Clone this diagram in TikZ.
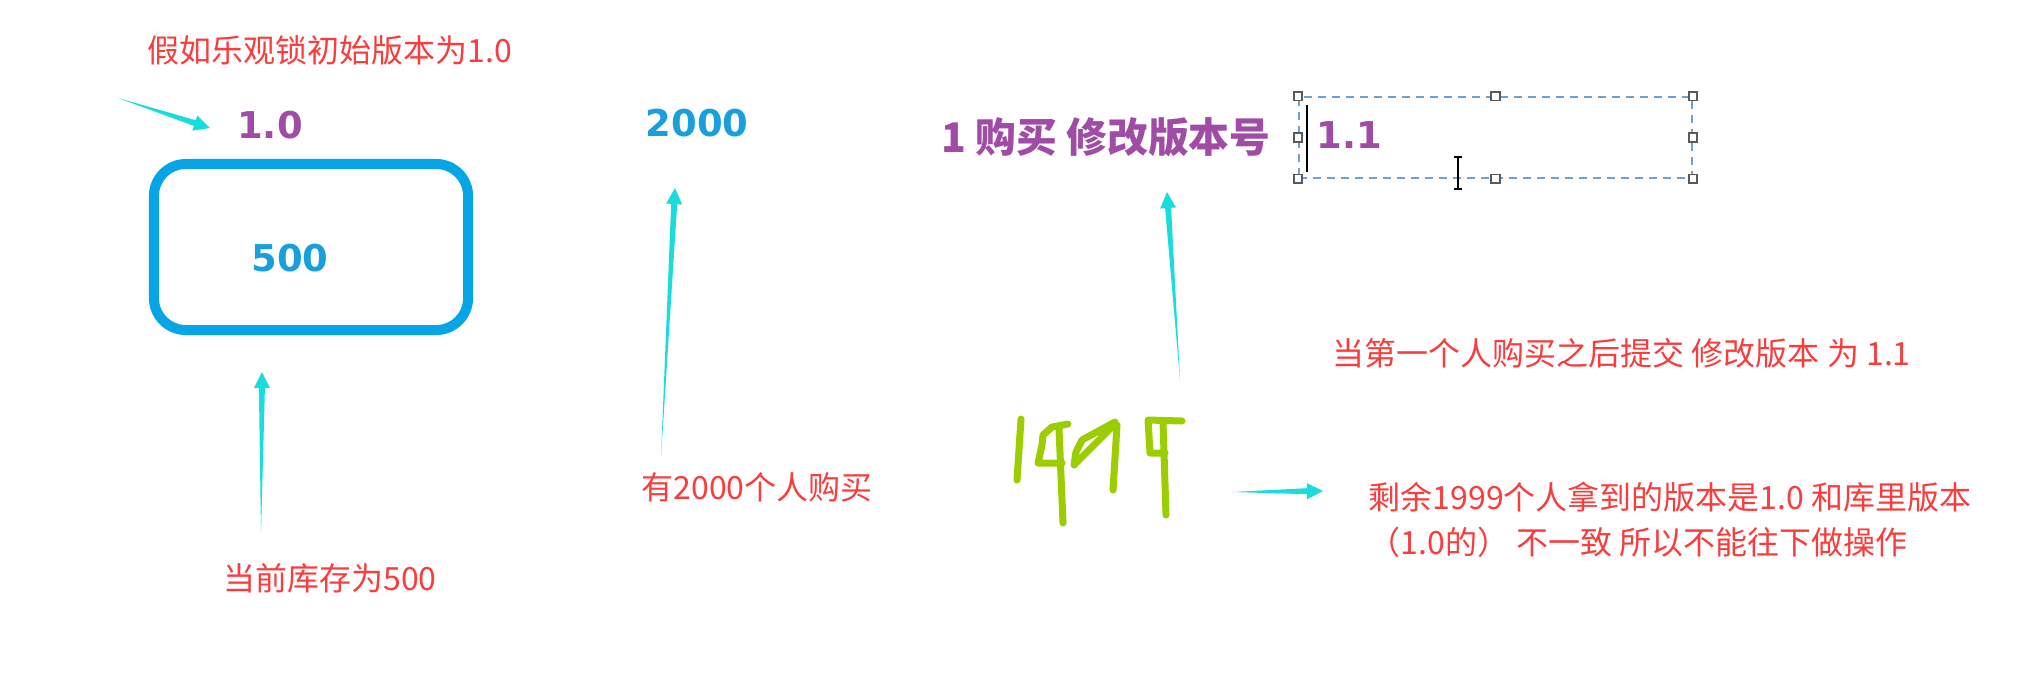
\documentclass[tikz,border=0pt]{standalone}
\usepackage{fontspec}
\setmainfont{Noto Sans CJK SC}
\newfontfamily\numfont{DejaVu Sans}
\usetikzlibrary{calc}
\definecolor{notered}{RGB}{250,60,60}
\definecolor{verpurple}{RGB}{160,75,165}
\definecolor{numblue}{RGB}{25,160,220}
\definecolor{boxblue}{RGB}{5,165,230}
\definecolor{arrowcyan}{RGB}{25,220,220}
\definecolor{pengreen}{RGB}{155,205,0}
\definecolor{dashblue}{RGB}{110,160,210}
\definecolor{handlegray}{RGB}{90,90,90}
\tikzset{
  note/.style={text=notered, font=\fontsize{9.1}{12.8}\selectfont, inner sep=0pt},
  num/.style={font=\numfont\bfseries\fontsize{10.5}{12}\selectfont, inner sep=0pt},
  handle/.style={draw=handlegray, fill=white, line width=0.5pt, minimum size=0.085cm, inner sep=0pt},
  pen/.style={draw=pengreen, line width=0.07cm, line cap=round, line join=round},
}
\newcommand{\wedgearrow}[2]{%
  \fill[arrowcyan] (#1) -- ($(#2)!0.16cm!(#1)!0.03cm!90:(#2)$) -- ($(#2)!0.16cm!(#1)!0.08cm!90:(#2)$) -- (#2)
    -- ($(#2)!0.16cm!(#1)!0.08cm!-90:(#2)$) -- ($(#2)!0.16cm!(#1)!0.03cm!-90:(#2)$) -- cycle;}

\begin{document}
\begin{tikzpicture}[x=0.01cm, y=-0.01cm]
	\useasboundingbox (0,0) rectangle (2028,684);
	\node[note] (title) at (330,50) {假如乐观锁初始版本为1.0};
	\node[num, text=verpurple] (v10) at (270,125) {1.0};
	\node[draw=boxblue, line width=0.1cm, rounded corners=0.32cm, minimum width=3.14cm, minimum height=1.66cm] (stock) at (311,247) {};
	\node[num, text=numblue] (n500) at (290,258) {500};
	\node[note] (stocknote) at (330,578) {当前库存为500};
	\node[num, text=numblue] (n2000) at (697,123) {2000};
	\node[note] (buynote) at (757,487) {有2000个人购买};
	\node[text=verpurple, font=\bfseries\fontsize{11.6}{13}\selectfont, inner sep=0pt] (first) at (1106,137) {1 购买 修改版本号};
	\node[draw=dashblue, line width=0.45pt, dash pattern=on 0.08cm off 0.06cm, minimum width=3.93cm, minimum height=0.81cm, inner sep=0pt] (editbox) at (1495.5,137.5) {};
	\foreach \a in {north west, north, north east, east, south east, south, south west, west}
		\node[handle] at (editbox.\a) {};
	\node[num, text=verpurple] (v11) at (1349,135) {1.1};
	\draw[line width=0.02cm] (1307,105) -- (1307,172);
	\draw[line width=0.02cm] (1458,157) -- (1458,189) (1454,157) -- (1462,157) (1454,189) -- (1462,189);
	\node[note, anchor=west] (commit) at (1332,353) {当第一个人购买之后提交 修改版本 为 1.1};
	\node[note, anchor=west, align=left] (remain) at (1368,520) {剩余1999个人拿到的版本是1.0 和库里版本\\（1.0的） 不一致 所以不能往下做操作};
	\draw[pen] (1021,419) -- (1017,480);
	\draw[pen] (1068,424) -- (1052,427) -- (1043,435) -- (1042,445) -- (1038,463) -- (1062,463) (1059,429) -- (1063,523);
	\draw[pen] (1115,422) -- (1082,440) -- (1076,452) -- (1074,465) -- (1115,424) (1117,425) -- (1113,490);
	\draw[pen] (1182,421) -- (1148,420) -- (1150,453) -- (1165,453) (1163,422) -- (1166,515);
	\coordinate (initTail) at (118,98);
	\coordinate (initTip) at (210,128);
	\coordinate (stockTail) at (261,533);
	\coordinate (stockTip) at (262,372);
	\coordinate (buyTail) at (661,457);
	\coordinate (buyTip) at (675,188);
	\coordinate (firstTail) at (1180,380);
	\coordinate (firstTip) at (1167,192);
	\coordinate (restTail) at (1232,492);
	\coordinate (restTip) at (1323,491);
	\wedgearrow{initTail}{initTip}
	\wedgearrow{stockTail}{stockTip}
	\wedgearrow{buyTail}{buyTip}
	\wedgearrow{firstTail}{firstTip}
	\wedgearrow{restTail}{restTip}
\end{tikzpicture}
\end{document}
